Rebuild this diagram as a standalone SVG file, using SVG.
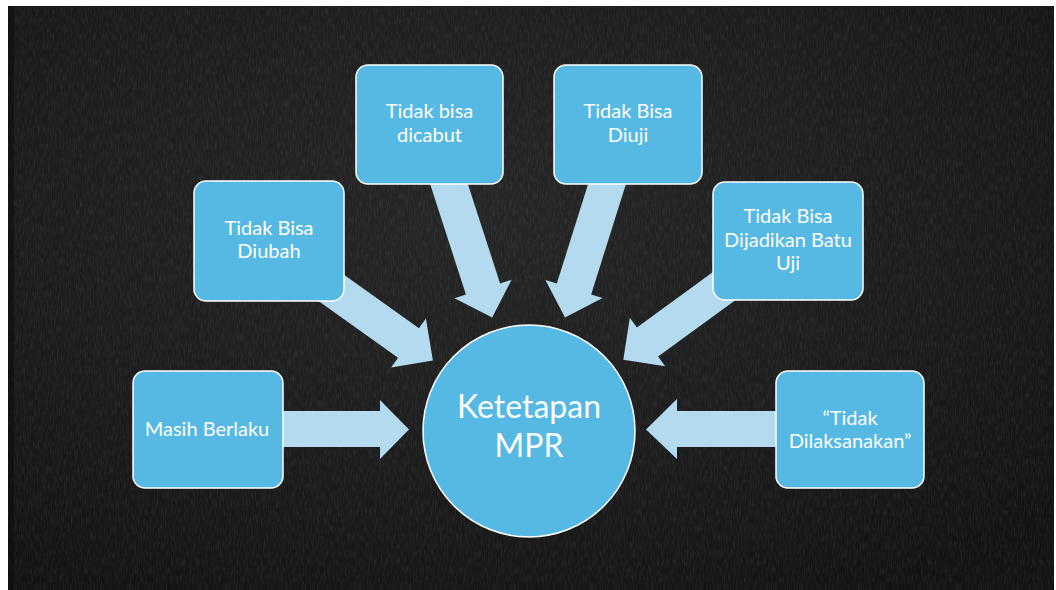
<svg xmlns="http://www.w3.org/2000/svg" width="1056" height="590" viewBox="0 0 1056 590">
<defs>
<filter id="chalk" x="0" y="0" width="100%" height="100%">
<feTurbulence type="fractalNoise" baseFrequency="0.7 0.12" numOctaves="3" seed="7" result="n"/>
<feColorMatrix in="n" type="matrix" values="0 0 0 0 1  0 0 0 0 1  0 0 0 0 1  0 0 0 0.5 -0.2"/>
</filter>
<radialGradient id="bg" cx="0.45" cy="0.35" r="0.75">
<stop offset="0" stop-color="#262626"/>
<stop offset="0.6" stop-color="#1c1c1c"/>
<stop offset="1" stop-color="#131313"/>
</radialGradient>
<style>
.box{fill:#55B9E4;stroke:#ffffff;stroke-width:1.5}
.arrow{fill:#B3DAEF}
.t{font-family:Lato,"Open Sans","Liberation Sans",sans-serif;font-size:20px;fill:#ffffff;text-anchor:middle}
.c{font-family:Lato,"Open Sans","Liberation Sans",sans-serif;font-size:32px;fill:#ffffff;text-anchor:middle}
</style>
</defs>
<rect x="0" y="0" width="1056" height="590" fill="#ffffff"/>
<rect x="8" y="6" width="1046" height="584" fill="url(#bg)"/>
<rect x="8" y="6" width="1046" height="584" filter="url(#chalk)" opacity="0.28"/>
<rect x="8" y="6" width="6" height="584" fill="#0e0e0e" opacity="0.6"/>

<g id="connectors">
<polygon class="arrow" points="270,411 380,411 380,400 409,429.5 380,459 380,447 270,447"/>
<polygon class="arrow" points="313.2,252.8 419.0,328.3 425.9,318.6 432.9,360.4 391.1,367.4 398.0,357.7 292.2,282.2"/>
<polygon class="arrow" points="425.9,170.9 465.9,294.5 454.5,298.2 492.2,317.5 511.5,279.8 500.1,283.5 460.1,159.9"/>
<polygon class="arrow" points="595.8,159.6 556.8,283.6 545.4,280.0 565.0,317.6 602.6,298.0 591.2,294.4 630.2,170.4"/>
<polygon class="arrow" points="741.9,250.9 636.9,327.5 629.8,317.8 623.3,359.7 665.2,366.2 658.1,356.5 763.1,279.9"/>
<polygon class="arrow" points="790,411 677,411 677,399 646,429.5 677,459 677,447 790,447"/>
</g>

<g id="node-center">
<circle class="box" cx="529" cy="431" r="106"/>
<text class="c" x="529" y="418">Ketetapan</text>
<text class="c" x="529" y="457">MPR</text>
</g>

<g id="node-masih">
<rect class="box" x="133" y="371" width="150" height="117" rx="12"/>
<text class="t" x="207" y="436">Masih Berlaku</text>
</g>

<g id="node-diubah">
<rect class="box" x="194" y="181" width="150" height="120" rx="12"/>
<text class="t" x="269" y="235">Tidak Bisa</text>
<text class="t" x="269" y="258">Diubah</text>
</g>

<g id="node-dicabut">
<rect class="box" x="356" y="65" width="147" height="119" rx="12"/>
<text class="t" x="429.5" y="118">Tidak bisa</text>
<text class="t" x="429.5" y="142">dicabut</text>
</g>

<g id="node-diuji">
<rect class="box" x="554" y="65" width="148" height="119" rx="12"/>
<text class="t" x="628" y="118">Tidak Bisa</text>
<text class="t" x="628" y="142">Diuji</text>
</g>

<g id="node-batu-uji">
<rect class="box" x="713" y="182" width="150" height="118" rx="12"/>
<text class="t" x="788" y="223">Tidak Bisa</text>
<text class="t" x="788" y="247">Dijadikan Batu</text>
<text class="t" x="788" y="270">Uji</text>
</g>

<g id="node-dilaksanakan">
<rect class="box" x="776" y="371" width="148" height="117" rx="12"/>
<text class="t" x="850" y="425">“Tidak</text>
<text class="t" x="850" y="448">Dilaksanakan”</text>
</g>
</svg>
